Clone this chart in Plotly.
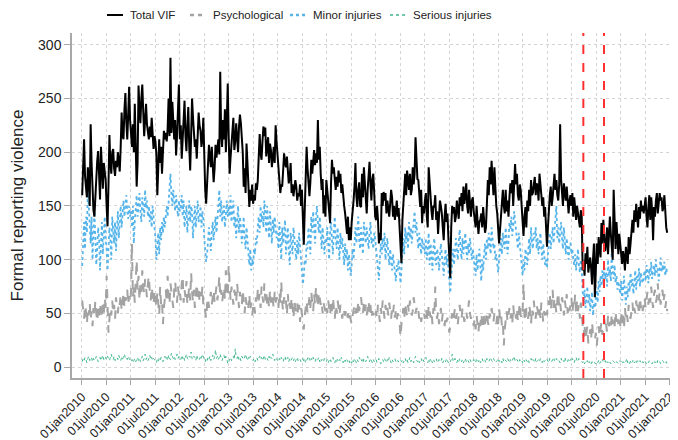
import pandas as pd
import plotly.graph_objects as go

# Weekly series, 2010-01 .. 2021-12 (each row = half-year, 26 weeks)
total_vif = [
    160, 185, 212, 178, 168, 158, 186, 174, 150, 226, 190, 165, 146, 140, 162, 176, 192, 201, 170, 156, 205, 186, 166, 190, 181, 174,
    150, 131, 170, 216, 190, 180, 200, 203, 185, 178, 192, 186, 200, 190, 182, 205, 237, 215, 212, 240, 255, 228, 212, 235, 261, 230,
    212, 205, 226, 200, 245, 210, 168, 190, 262, 240, 227, 250, 263, 238, 215, 230, 245, 226, 220, 212, 224, 214, 232, 220, 203, 215,
    210, 198, 160, 185, 212, 190, 205, 180, 198, 220, 212, 218, 210, 222, 250, 215, 288, 218, 247, 225, 212, 230, 197, 215, 240, 263,
    212, 225, 194, 210, 227, 248, 215, 201, 225, 242, 205, 183, 215, 250, 232, 220, 205, 212, 194, 215, 237, 225, 220, 205, 212, 232,
    180, 165, 152, 170, 183, 207, 195, 186, 205, 190, 172, 185, 207, 195, 205, 212, 198, 275, 218, 205, 230, 212, 240, 200, 228, 264,
    215, 180, 195, 205, 217, 232, 202, 210, 227, 214, 200, 224, 235, 227, 214, 200, 168, 185, 162, 208, 190, 175, 149, 165, 155, 170,
    152, 160, 155, 171, 165, 174, 200, 217, 199, 193, 210, 224, 215, 223, 196, 205, 214, 190, 208, 202, 186, 195, 205, 190, 225, 210,
    196, 185, 174, 162, 170, 168, 183, 199, 190, 186, 196, 182, 171, 177, 190, 162, 170, 159, 165, 174, 168, 155, 162, 159, 170, 150,
    165, 130, 114, 146, 180, 205, 185, 174, 159, 172, 193, 180, 196, 202, 188, 199, 190, 230, 193, 205, 180, 165, 175, 143, 160, 140,
    174, 160, 155, 145, 134, 171, 193, 180, 186, 175, 165, 177, 168, 183, 172, 180, 162, 170, 155, 150, 143, 135, 124, 140, 118, 130,
    118, 135, 143, 155, 168, 190, 159, 149, 165, 172, 150, 149, 180, 158, 186, 171, 160, 143, 165, 180, 191, 170, 155, 175, 180, 162,
    140, 137, 150, 137, 115, 125, 118, 162, 150, 163, 155, 162, 143, 155, 149, 140, 152, 165, 158, 140, 150, 137, 145, 155, 140, 148,
    130, 118, 97, 137, 155, 170, 180, 160, 183, 174, 165, 180, 160, 165, 186, 170, 180, 214, 193, 175, 174, 160, 149, 165, 134, 150,
    143, 155, 162, 140, 130, 186, 165, 159, 145, 137, 150, 149, 160, 137, 145, 124, 140, 155, 150, 143, 130, 118, 140, 152, 135, 143,
    120, 105, 83, 130, 150, 143, 149, 135, 140, 155, 146, 138, 158, 150, 162, 145, 168, 152, 160, 171, 150, 143, 165, 149, 140, 155,
    158, 145, 137, 130, 150, 140, 124, 135, 137, 143, 130, 149, 137, 125, 130, 155, 174, 160, 186, 170, 192, 174, 160, 186, 165, 150,
    143, 130, 115, 128, 143, 158, 165, 150, 143, 165, 145, 155, 140, 158, 171, 162, 174, 150, 165, 189, 170, 180, 160, 155, 170, 165,
    150, 137, 122, 140, 149, 130, 155, 145, 165, 150, 174, 160, 162, 170, 177, 160, 171, 168, 155, 180, 170, 162, 150, 158, 140, 149,
    135, 112, 130, 149, 160, 168, 150, 158, 170, 180, 165, 174, 160, 155, 170, 226, 175, 165, 150, 171, 160, 155, 168, 150, 143, 155,
    160, 150, 162, 140, 158, 148, 137, 150, 143, 135, 130, 146, 140, 90, 99, 85, 106, 96, 112, 88, 96, 102, 92, 77, 100, 115,
    65, 100, 115, 96, 121, 110, 102, 134, 115, 137, 124, 108, 115, 130, 105, 121, 140, 124, 112, 100, 165, 121, 110, 135, 118, 105,
    124, 110, 105, 96, 108, 102, 90, 112, 100, 96, 121, 105, 115, 130, 137, 125, 146, 135, 152, 140, 130, 149, 138, 155, 145, 150,
    143, 150, 158, 140, 130, 149, 160, 137, 158, 145, 118, 149, 140, 155, 162, 143, 150, 162, 155, 158, 145, 149, 160, 140, 130, 125,
]

psychological = [
    62, 50, 45, 58, 52, 40, 55, 48, 60, 44, 52, 38, 55, 47, 62, 50, 42, 56, 48, 60, 52, 45, 58, 50, 65, 55,
    85, 60, 32, 45, 55, 48, 62, 50, 58, 45, 65, 55, 50, 62, 58, 68, 52, 60, 70, 55, 65, 62, 72, 58, 66, 60,
    70, 115, 65, 75, 60, 80, 100, 72, 85, 62, 78, 70, 90, 75, 68, 82, 72, 65, 78, 85, 70, 62, 75, 68, 58, 72,
    65, 55, 70, 60, 48, 75, 58, 62, 40, 55, 68, 72, 60, 85, 65, 58, 78, 70, 62, 55, 72, 80, 68, 60, 75, 65,
    70, 62, 78, 85, 60, 72, 65, 80, 58, 68, 75, 62, 88, 70, 60, 72, 55, 68, 78, 65, 72, 60, 70, 62, 75, 58,
    60, 52, 45, 58, 65, 55, 62, 70, 58, 66, 72, 60, 68, 75, 62, 70, 85, 65, 72, 60, 68, 75, 62, 90, 70, 65,
    95, 70, 62, 75, 68, 58, 72, 65, 60, 78, 62, 55, 70, 65, 58, 72, 60, 50, 65, 58, 62, 55, 68, 52, 60, 48,
    55, 60, 50, 65, 58, 72, 62, 68, 55, 75, 65, 60, 78, 62, 70, 58, 65, 55, 72, 60, 68, 62, 55, 70, 60, 65,
    62, 55, 70, 58, 80, 60, 52, 65, 58, 62, 48, 68, 55, 60, 50, 65, 58, 45, 62, 55, 52, 60, 48, 58, 42, 55,
    50, 40, 35, 48, 55, 62, 50, 58, 65, 55, 70, 60, 52, 68, 58, 75, 62, 55, 70, 65, 58, 62, 50, 60, 55, 52,
    58, 50, 62, 55, 48, 60, 52, 65, 55, 45, 58, 50, 62, 55, 48, 58, 52, 45, 55, 50, 48, 52, 45, 50, 42, 48,
    45, 40, 48, 52, 58, 50, 55, 48, 62, 52, 58, 65, 55, 50, 60, 52, 58, 48, 55, 62, 50, 58, 45, 52, 48, 44,
    48, 52, 45, 58, 50, 42, 55, 48, 62, 52, 45, 58, 50, 55, 48, 60, 52, 45, 55, 50, 58, 46, 52, 44, 50, 48,
    42, 28, 40, 50, 55, 45, 60, 52, 48, 58, 50, 62, 55, 48, 52, 65, 58, 50, 55, 48, 52, 45, 50, 42, 48, 52,
    50, 45, 55, 48, 42, 58, 50, 46, 52, 40, 55, 48, 75, 50, 45, 52, 40, 48, 55, 42, 50, 45, 38, 48, 42, 46,
    40, 32, 38, 45, 50, 42, 48, 55, 45, 50, 40, 52, 58, 48, 45, 55, 50, 42, 48, 52, 45, 55, 62, 50, 45, 48,
    42, 38, 45, 35, 48, 40, 32, 45, 38, 50, 42, 35, 48, 40, 45, 52, 42, 38, 50, 45, 55, 48, 42, 50, 45, 40,
    48, 40, 55, 45, 50, 38, 42, 20, 35, 45, 52, 42, 48, 55, 45, 50, 40, 58, 48, 52, 45, 55, 42, 50, 60, 48,
    45, 52, 78, 48, 42, 55, 50, 45, 58, 52, 40, 55, 48, 62, 50, 45, 58, 52, 48, 55, 45, 60, 50, 42, 52, 48,
    55, 48, 62, 58, 68, 52, 60, 72, 55, 65, 58, 50, 62, 70, 55, 60, 52, 65, 58, 48, 62, 55, 68, 50, 58, 52,
    58, 65, 50, 60, 55, 68, 48, 62, 52, 58, 45, 60, 50, 35, 28, 40, 25, 32, 38, 22, 30, 35, 25, 42, 30, 28,
    25, 32, 20, 30, 38, 28, 35, 42, 30, 38, 45, 35, 40, 32, 48, 38, 42, 35, 50, 40, 45, 38, 52, 42, 48, 40,
    45, 38, 52, 40, 48, 35, 55, 45, 50, 42, 58, 48, 45, 52, 60, 48, 55, 50, 62, 52, 58, 48, 65, 55, 60, 52,
    58, 65, 55, 62, 70, 58, 68, 60, 75, 62, 55, 68, 72, 60, 65, 78, 62, 70, 58, 65, 72, 60, 68, 55, 62, 52,
]

minor_injuries = [
    94, 120, 135, 110, 140, 125, 165, 150, 130, 115, 140, 100, 125, 145, 120, 95, 110, 130, 120, 90, 115, 135, 105, 125, 140, 118,
    110, 90, 105, 130, 120, 100, 140, 125, 115, 135, 108, 128, 145, 120, 138, 150, 130, 142, 155, 140, 150, 160, 145, 138, 150, 140,
    145, 130, 150, 115, 135, 155, 160, 140, 150, 162, 145, 135, 158, 150, 140, 165, 148, 155, 140, 150, 135, 145, 130, 150, 140, 125,
    120, 100, 110, 125, 105, 130, 118, 135, 125, 140, 130, 145, 150, 140, 158, 170, 180, 160, 150, 165, 155, 145, 160, 150, 140, 155,
    145, 150, 160, 140, 155, 130, 145, 150, 125, 140, 155, 135, 150, 145, 120, 138, 150, 130, 145, 155, 135, 140, 150, 130, 145, 138,
    120, 110, 98, 105, 115, 130, 120, 108, 125, 135, 118, 130, 140, 125, 145, 150, 165, 140, 155, 135, 145, 150, 130, 145, 155, 140,
    150, 140, 160, 135, 145, 155, 130, 140, 120, 135, 150, 125, 140, 130, 115, 125, 140, 120, 110, 130, 115, 105, 95, 110, 90, 100,
    95, 110, 105, 120, 115, 130, 140, 125, 150, 135, 145, 130, 155, 140, 125, 150, 135, 120, 145, 130, 115, 138, 125, 140, 130, 120,
    125, 110, 135, 120, 100, 130, 115, 125, 137, 105, 120, 130, 110, 95, 125, 115, 105, 130, 120, 110, 100, 118, 105, 125, 112, 100,
    90, 77, 85, 100, 95, 115, 110, 130, 120, 105, 140, 125, 145, 130, 115, 140, 150, 135, 125, 140, 120, 110, 130, 115, 105, 120,
    115, 130, 110, 100, 125, 135, 118, 105, 128, 140, 120, 110, 130, 115, 100, 125, 110, 120, 105, 95, 115, 100, 110, 90, 105, 95,
    85, 95, 110, 100, 120, 130, 115, 125, 140, 118, 110, 130, 120, 105, 135, 125, 115, 130, 120, 110, 125, 135, 115, 120, 110, 125,
    120, 110, 95, 85, 81, 100, 115, 105, 120, 110, 125, 100, 115, 120, 105, 95, 110, 100, 90, 105, 95, 85, 80, 95, 90, 100,
    85, 78, 90, 110, 120, 105, 130, 115, 125, 110, 135, 120, 130, 115, 125, 140, 145, 125, 135, 120, 110, 125, 115, 105, 120, 110,
    115, 105, 120, 100, 110, 125, 95, 115, 105, 90, 110, 120, 100, 95, 110, 105, 90, 100, 115, 105, 95, 85, 100, 110, 95, 105,
    90, 75, 69, 85, 100, 110, 95, 105, 120, 110, 100, 115, 128, 110, 100, 120, 105, 115, 125, 110, 100, 115, 105, 120, 110, 100,
    110, 100, 95, 85, 105, 90, 100, 110, 95, 80, 100, 90, 105, 115, 100, 120, 110, 125, 115, 105, 130, 120, 110, 115, 100, 105,
    95, 88, 100, 110, 120, 105, 125, 115, 110, 130, 120, 105, 115, 135, 128, 140, 122, 130, 145, 135, 125, 120, 110, 125, 115, 105,
    95, 85, 100, 90, 110, 105, 95, 115, 120, 105, 130, 115, 110, 125, 120, 130, 110, 120, 105, 115, 125, 110, 100, 115, 105, 95,
    100, 92, 105, 115, 125, 110, 120, 130, 115, 125, 135, 150, 120, 130, 115, 125, 135, 120, 110, 130, 115, 105, 120, 110, 100, 115,
    115, 105, 110, 100, 95, 105, 90, 100, 110, 95, 88, 100, 92, 70, 60, 72, 55, 65, 75, 58, 68, 52, 62, 70, 48, 60,
    55, 65, 72, 60, 80, 70, 85, 75, 90, 78, 95, 82, 88, 75, 100, 85, 92, 80, 107, 90, 82, 95, 78, 85, 72, 80,
    75, 68, 80, 62, 72, 85, 70, 58, 75, 65, 80, 70, 88, 75, 82, 68, 78, 90, 72, 85, 80, 92, 75, 88, 82, 78,
    85, 90, 80, 95, 88, 78, 92, 85, 98, 82, 90, 95, 85, 100, 88, 92, 80, 95, 102, 88, 95, 90, 98, 85, 92, 88,
]

serious_injuries = [
    5, 8, 6, 9, 7, 4, 8, 10, 6, 7, 9, 5, 8, 6, 7, 10, 8, 5, 7, 9, 6, 8, 11, 7, 6, 9,
    7, 10, 8, 6, 9, 12, 8, 7, 10, 6, 8, 9, 7, 11, 8, 6, 9, 7, 10, 12, 8, 9, 7, 10, 8, 6,
    5, 7, 4, 6, 8, 5, 7, 9, 6, 8, 5, 7, 10, 6, 8, 12, 7, 9, 6, 8, 11, 7, 9, 6, 8, 7,
    6, 4, 7, 5, 8, 6, 9, 7, 5, 8, 10, 7, 9, 6, 11, 8, 7, 13, 9, 8, 10, 7, 9, 12, 8, 10,
    9, 7, 11, 8, 10, 6, 9, 12, 8, 7, 10, 9, 14, 8, 7, 10, 9, 6, 11, 8, 9, 7, 10, 8, 12, 9,
    7, 5, 8, 6, 9, 7, 10, 6, 8, 11, 7, 9, 16, 8, 10, 7, 9, 12, 8, 6, 9, 11, 7, 10, 8, 3,
    5, 7, 9, 6, 8, 10, 7, 17, 9, 8, 11, 7, 9, 6, 10, 8, 7, 9, 12, 8, 6, 9, 7, 10, 8, 7,
    6, 8, 5, 7, 9, 6, 8, 10, 7, 9, 6, 8, 11, 7, 9, 8, 6, 10, 7, 9, 8, 12, 7, 6, 9, 8,
    7, 5, 8, 6, 9, 7, 5, 8, 10, 6, 7, 9, 5, 8, 6, 7, 9, 6, 8, 5, 7, 9, 6, 8, 7, 5,
    6, 8, 5, 7, 4, 6, 8, 10, 7, 5, 8, 6, 9, 7, 5, 8, 6, 7, 9, 5, 8, 6, 7, 5, 8, 6,
    5, 7, 4, 6, 8, 5, 7, 9, 6, 4, 7, 5, 8, 6, 7, 5, 9, 6, 4, 7, 5, 8, 6, 5, 7, 4,
    6, 4, 7, 5, 8, 6, 4, 7, 5, 9, 6, 5, 7, 4, 8, 6, 5, 7, 10, 6, 5, 8, 6, 4, 7, 5,
    5, 7, 4, 6, 8, 5, 3, 6, 7, 5, 8, 6, 4, 7, 5, 9, 6, 4, 7, 5, 6, 8, 5, 4, 6, 5,
    4, 6, 5, 7, 4, 6, 8, 5, 7, 4, 6, 9, 5, 7, 6, 4, 8, 10, 6, 5, 7, 4, 6, 8, 5, 7,
    5, 7, 9, 6, 4, 7, 5, 8, 6, 4, 7, 5, 6, 8, 5, 4, 7, 6, 5, 8, 4, 6, 7, 5, 8, 6,
    4, 6, 5, 7, 12, 6, 5, 8, 6, 4, 7, 5, 8, 6, 5, 7, 4, 6, 8, 5, 7, 6, 4, 7, 5, 6,
    5, 7, 6, 4, 8, 6, 5, 7, 4, 6, 8, 5, 7, 6, 4, 8, 6, 5, 7, 9, 6, 5, 8, 6, 7, 5,
    6, 8, 5, 7, 6, 4, 8, 5, 7, 6, 5, 8, 6, 4, 7, 5, 6, 8, 10, 6, 5, 7, 6, 4, 7, 5,
    6, 4, 7, 5, 8, 6, 5, 7, 4, 6, 8, 5, 7, 6, 4, 8, 5, 6, 7, 5, 8, 6, 4, 7, 5, 6,
    5, 7, 6, 4, 8, 6, 5, 7, 9, 6, 5, 8, 6, 7, 5, 4, 8, 6, 7, 5, 9, 6, 7, 5, 8, 6,
    7, 5, 8, 6, 4, 7, 9, 6, 5, 8, 7, 6, 5, 4, 6, 3, 5, 4, 6, 3, 5, 4, 2, 5, 3, 4,
    4, 3, 5, 4, 6, 3, 5, 4, 7, 5, 4, 6, 3, 5, 4, 6, 5, 3, 4, 6, 5, 4, 3, 5, 4, 3,
    4, 6, 5, 3, 5, 4, 6, 5, 8, 4, 5, 3, 6, 4, 5, 7, 4, 5, 3, 6, 4, 5, 6, 4, 3, 5,
    4, 6, 5, 3, 5, 4, 6, 5, 4, 3, 5, 6, 4, 5, 3, 6, 4, 5, 3, 4, 6, 5, 3, 4, 5, 3,
]

series_names = ["Total VIF", "Psychological", "Minor injuries", "Serious injuries"]
tick_dates = [f"{y}-{m:02d}-01" for y in range(2010, 2022) for m in (1, 7)] + ["2022-01-01"]
tick_labels = [f"01{mon}{y}" for y in range(2010, 2022) for mon in ("jan", "jul")] + ["01jan2022"]
y_ticks = [0, 50, 100, 150, 200, 250, 300]
event_dates = ["2020-03-27", "2020-08-28"]

dates = pd.date_range("2010-01-03", periods=len(total_vif), freq="7D")

styles = {
    "Total VIF": dict(color="#000000", width=2, dash="solid"),
    "Psychological": dict(color="#a3a3a3", width=2, dash="dash"),
    "Minor injuries": dict(color="#55b4ea", width=1.8, dash="dot"),
    "Serious injuries": dict(color="#3fb68e", width=1, dash="dot"),
}
values = {"Total VIF": total_vif, "Psychological": psychological,
          "Minor injuries": minor_injuries, "Serious injuries": serious_injuries}

fig = go.Figure()
for name in ["Serious injuries", "Psychological", "Minor injuries", "Total VIF"]:
    fig.add_trace(go.Scatter(x=dates, y=values[name], mode="lines", name=name,
                             line=styles[name], showlegend=False))

for d in event_dates:
    fig.add_shape(type="line", xref="x", yref="paper", x0=d, x1=d, y0=0, y1=1,
                  line=dict(color="#ff3030", width=2, dash="dash"))

# page body adds an 8px offset; layout below is in window pixels
OFF = 8
FIG_W, FIG_H = 678 - OFF, 440 - OFF
L, T, W, H = 72 - OFF, 33 - OFF, 598, 345
def px(xw):
    return (xw - OFF - L) / W
def py(yw):
    return (T + H - (yw - OFF)) / H

legend_x = [107, 190, 290, 390]
for name, x0 in zip(series_names, legend_x):
    st = styles[name]
    fig.add_shape(type="line", xref="paper", yref="paper", x0=px(x0), x1=px(x0 + 16),
                  y0=py(15), y1=py(15),
                  line=dict(color=st["color"], width=st["width"] + (0.5 if st["dash"] != "solid" else 0),
                            dash="4px,4px" if st["dash"] == "dash" else st["dash"]))
    fig.add_annotation(xref="paper", yref="paper", x=px(x0 + 21), y=py(15), text=name,
                       showarrow=False, xanchor="left", yanchor="middle",
                       font=dict(family="Liberation Sans, Arial", size=11.5, color="#222222"))

fig.update_layout(
    width=FIG_W, height=FIG_H,
    margin=dict(l=L, r=FIG_W - L - W, t=T, b=FIG_H - T - H),
    paper_bgcolor="white", plot_bgcolor="white",
    font=dict(family="Liberation Sans, Arial, sans-serif", color="#222222", size=13),
    showlegend=False,
)
fig.update_xaxes(
    range=["2009-10-19", "2022-01-02"], automargin=False,
    tickvals=tick_dates, ticktext=tick_labels, tickangle=-45,
    tickfont=dict(size=12.5), ticklabeloverflow="allow",
    showgrid=True, gridcolor="#d4d4d4", griddash="dot", gridwidth=1,
    showline=True, linecolor="#a8a8a8", linewidth=1.5,
    ticks="outside", ticklen=5, tickcolor="#a8a8a8",
    zeroline=False,
)
fig.update_yaxes(
    range=[-10.2, 311], automargin=False,
    tickvals=y_ticks,
    tickfont=dict(size=14),
    title=dict(text="Formal reporting violence", font=dict(size=17), standoff=10),
    showgrid=True, gridcolor="#d4d4d4", griddash="dot", gridwidth=1,
    showline=True, linecolor="#a8a8a8", linewidth=1.5,
    ticks="outside", ticklen=6, tickcolor="#a8a8a8",
    zeroline=False,
)

fig.write_html("out.html")
